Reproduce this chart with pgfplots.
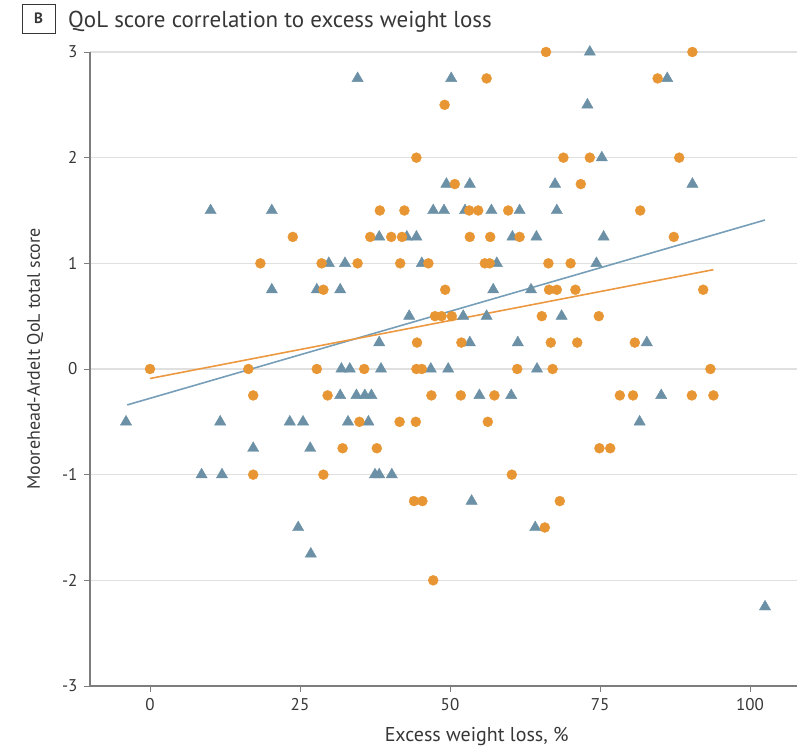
\documentclass[border=0pt]{standalone}
\usepackage{pgfplots}
\pgfplotsset{compat=1.18}
\usepackage{fontspec}
\setmainfont{PT Sans}

\definecolor{ptorange}{RGB}{232,150,52}
\definecolor{ptblue}{RGB}{108,145,166}
\definecolor{lineblue}{RGB}{118,158,184}
\definecolor{lineorange}{RGB}{236,152,64}
\definecolor{gridgray}{RGB}{224,224,224}
\definecolor{axisgray}{RGB}{125,125,125}
\definecolor{txt}{RGB}{55,55,55}

\begin{document}
\begin{tikzpicture}
\useasboundingbox (-90bp,-63bp) rectangle (707bp,686bp);
\begin{axis}[
  at={(0,0)}, anchor=south west,
  scale only axis, width=707bp, height=634bp,
  xmin=-10, xmax=107.83, ymin=-3, ymax=3,
  axis x line*=bottom, axis y line*=left,
  axis line style={axisgray, line width=1.3pt},
  xtick={0,25,50,75,100}, ytick={-3,-2,-1,0,1,2,3},
  tick align=outside, major tick length=6bp,
  tick style={axisgray, line width=0.8pt},
  ymajorgrids, grid style={gridgray, line width=1.4pt},
  /pgf/number format/assume math mode=true,
  ticklabel style={font=\fontsize{17bp}{19bp}\selectfont, text=txt},
  yticklabel style={xshift=-3bp},
  xticklabel style={yshift=-3bp},
  xlabel={Excess weight loss, \%},
  ylabel={Moorehead-Ardelt QoL total score},
  label style={font=\fontsize{18bp}{21bp}\selectfont, text=txt},
  xlabel style={at={(axis description cs:0.547,-0.0883)}, anchor=base,
                font=\fontsize{20bp}{22bp}\selectfont},
  ylabel style={at={(axis description cs:-0.0778,0.516)}, anchor=center},
  clip=false,
]
% blue group (triangles)
\addplot[only marks, mark=triangle*, mark size=6.5bp, ptblue, mark options={draw=none, fill=ptblue}] table {
x y
10.1 1.5
20.3 1.5
34.6 2.75
50.2 2.75
73.3 3
86.2 2.75
72.9 2.5
75.3 2
49.4 1.75
53.3 1.75
67.5 1.75
90.4 1.75
47.2 1.5
49.0 1.5
52.5 1.5
56.9 1.5
61.6 1.5
67.8 1.5
38.2 1.25
42.8 1.25
44.4 1.25
60.4 1.25
64.4 1.25
75.6 1.25
29.8 1
32.5 1
45.3 1
57.8 1
74.4 1
20.3 0.75
27.8 0.75
31.7 0.75
57.2 0.75
63.5 0.75
43.2 0.5
52.2 0.5
56.1 0.5
68.6 0.5
38.2 0.25
53.3 0.25
61.3 0.25
82.8 0.25
31.9 0
33.3 0
38.5 0
46.8 0
49.7 0
64.5 0
31.7 -0.25
34.4 -0.25
35.8 -0.25
36.9 -0.25
54.9 -0.25
60.2 -0.25
85.2 -0.25
-4.0 -0.5
11.7 -0.5
23.3 -0.5
25.5 -0.5
33.0 -0.5
36.4 -0.5
81.6 -0.5
17.2 -0.75
26.7 -0.75
8.6 -1
12.0 -1
37.5 -1
38.2 -1
40.3 -1
53.6 -1.25
24.7 -1.5
64.2 -1.5
26.8 -1.75
102.5 -2.25
};
% orange group (circles)
\addplot[only marks, mark=*, mark size=5bp, ptorange, mark options={draw=none, fill=ptorange}] table {
x y
66.0 3
90.4 3
56.1 2.75
84.6 2.75
49.1 2.5
44.4 2
68.9 2
73.3 2
88.2 2
50.8 1.75
71.8 1.75
38.3 1.5
42.4 1.5
53.2 1.5
54.7 1.5
59.7 1.5
81.7 1.5
23.8 1.25
36.7 1.25
40.2 1.25
42.0 1.25
53.3 1.25
56.7 1.25
61.6 1.25
87.3 1.25
18.4 1
28.6 1
34.6 1
41.7 1
46.4 1
55.8 1
56.6 1
66.4 1
70.1 1
28.9 0.75
49.2 0.75
66.5 0.75
67.8 0.75
70.9 0.75
92.2 0.75
47.5 0.5
48.6 0.5
50.3 0.5
65.3 0.5
74.8 0.5
44.5 0.25
51.9 0.25
66.8 0.25
71.2 0.25
80.8 0.25
0.0 0
16.4 0
27.8 0
35.7 0
44.4 0
45.3 0
61.2 0
67.1 0
93.4 0
17.2 -0.25
29.6 -0.25
46.9 -0.25
51.8 -0.25
57.4 -0.25
78.3 -0.25
80.5 -0.25
90.3 -0.25
93.9 -0.25
34.9 -0.5
41.6 -0.5
44.3 -0.5
56.3 -0.5
32.1 -0.75
37.8 -0.75
74.9 -0.75
76.7 -0.75
17.2 -1
28.9 -1
60.3 -1
44.0 -1.25
45.4 -1.25
68.3 -1.25
65.8 -1.5
47.2 -2
};
% fitted lines
\addplot[lineblue, line width=1.6pt] coordinates {(-3.8,-0.34) (102.5,1.41)};
\addplot[lineorange, line width=1.6pt] coordinates {(0,-0.09) (93.9,0.94)};
\end{axis}
% panel heading
\node[draw=txt, line width=0.9pt, minimum width=33bp, minimum height=29bp, inner sep=0pt,
      text=txt, font=\fontsize{15bp}{17bp}\selectfont\bfseries] at (-51.5bp,667.5bp) {B};
\node[anchor=base west, inner sep=0pt, text=txt, font=\fontsize{23bp}{26bp}\selectfont]
      at (-22bp,658bp) {QoL score correlation to excess weight loss};
\end{tikzpicture}
\end{document}
